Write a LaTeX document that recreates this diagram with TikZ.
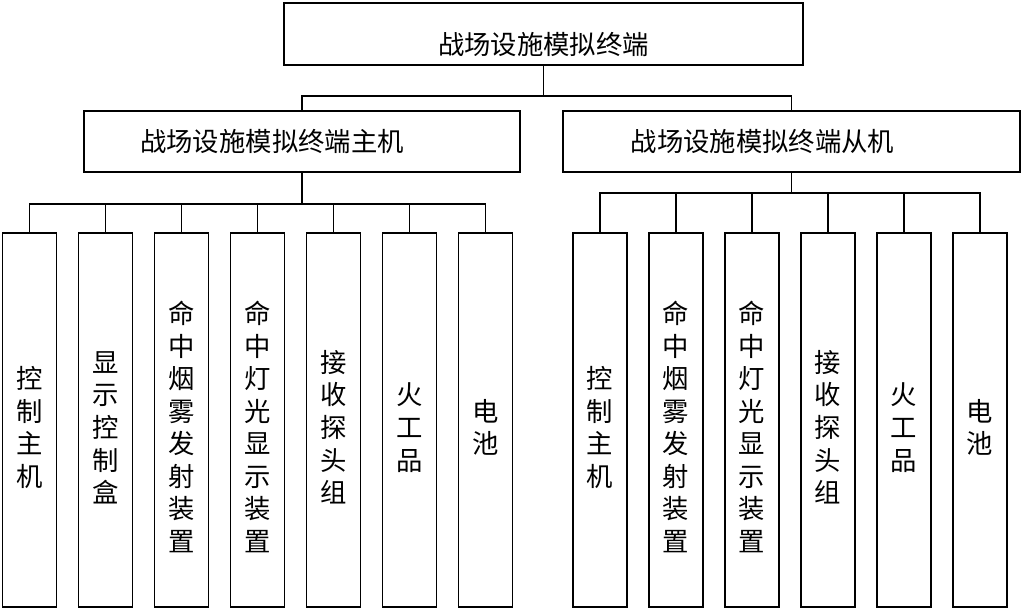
\documentclass[tikz,border=0pt]{standalone}
\usepackage{fontspec}
\setmainfont{Noto Sans CJK SC}
\usepackage{tikz}
\usetikzlibrary{positioning}
\newcommand{\lowtext}[1]{\raisebox{-0.22cm}[\height][\depth]{#1}}
\newcommand{\vlabel}[1]{\lowtext{\begin{tabular}{@{}c@{}}#1\end{tabular}}}

\begin{document}
\begin{tikzpicture}[x=0.02cm, y=-0.02cm, line width=1.1pt,
    box/.style={draw, rectangle, inner sep=0pt, font=\fontsize{15pt}{18.5pt}\selectfont},
    part/.style={box, minimum width=1.08cm, minimum height=7.48cm}]
      \useasboundingbox (0,0) rectangle (1023,611);
      % Top
      \node[box, minimum width=10.38cm, minimum height=1.24cm] (term) at (543.5,34) {\lowtext{战场设施模拟终端}};
      \node[box, minimum width=8.72cm, minimum height=1.22cm] (main) at (302,141.5) {战场设施模拟终端主机\hspace*{1.2cm}};
      \node[box, minimum width=9.14cm, minimum height=1.22cm] (sub) at (791.5,141.5) {战场设施模拟终端从机\hspace*{1.16cm}};
      % Host parts
      \node[part] (m1) at (29.5,420) {\vlabel{控\\制\\主\\机}};
      \node[part] (m2) at (105.5,420) {\vlabel{显\\示\\控\\制\\盒}};
      \node[part] (m3) at (181.5,420) {\vlabel{命\\中\\烟\\雾\\发\\射\\装\\置}};
      \node[part] (m4) at (257.5,420) {\vlabel{命\\中\\灯\\光\\显\\示\\装\\置}};
      \node[part] (m5) at (333.5,420) {\vlabel{接\\收\\探\\头\\组}};
      \node[part] (m6) at (409.5,420) {\vlabel{火\\工\\品}};
      \node[part] (m7) at (485.5,420) {\vlabel{电\\池}};
      % Slave parts
      \node[part] (s1) at (600,420) {\vlabel{控\\制\\主\\机}};
      \node[part] (s2) at (676,420) {\vlabel{命\\中\\烟\\雾\\发\\射\\装\\置}};
      \node[part] (s3) at (752,420) {\vlabel{命\\中\\灯\\光\\显\\示\\装\\置}};
      \node[part] (s4) at (828,420) {\vlabel{接\\收\\探\\头\\组}};
      \node[part] (s5) at (904,420) {\vlabel{火\\工\\品}};
      \node[part] (s6) at (980,420) {\vlabel{电\\池}};
      % Lines
      \coordinate (hub) at (543.5,96);
      \coordinate (mhub) at (302,204);
      \coordinate (shub) at (791.5,193);
      \draw (term.south) -- (hub);
      \draw (main.north) |- (hub) -| (sub.north);
      \draw (main.south) -- (mhub);
      \draw (m1.north) |- (mhub) -| (m7.north);
      \draw (m2.north) -- (m2.north |- mhub);
      \draw (m3.north) -- (m3.north |- mhub);
      \draw (m4.north) -- (m4.north |- mhub);
      \draw (m5.north) -- (m5.north |- mhub);
      \draw (m6.north) -- (m6.north |- mhub);
      \draw (sub.south) -- (shub);
      \draw (s1.north) |- (shub) -| (s6.north);
      \draw (s2.north) -- (s2.north |- shub);
      \draw (s3.north) -- (s3.north |- shub);
      \draw (s4.north) -- (s4.north |- shub);
      \draw (s5.north) -- (s5.north |- shub);
    \end{tikzpicture}
\end{document}
